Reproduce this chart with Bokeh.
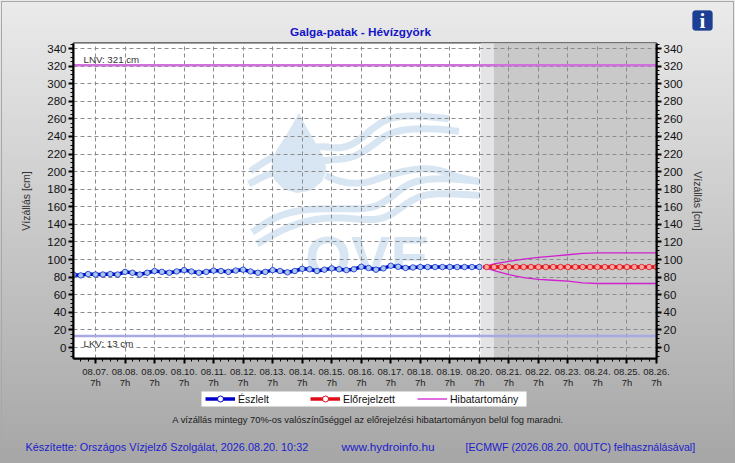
import numpy as np
from bokeh.plotting import figure
from bokeh.embed import file_html
from bokeh.resources import INLINE
from bokeh.core.properties import value
from bokeh.models import (BoxAnnotation, FixedTicker, Grid, Label, Legend, LegendItem, LinearAxis)

# ---- data -------------------------------------------------------------
day_labels = ["08.%02d.\n7h" % d for d in range(7, 27)]
observed = [83, 82, 83.5, 83, 83, 83.5, 83, 86, 85, 83, 85, 87, 86, 85, 86.5, 88, 86.5, 85, 86,
            87.5, 87, 86, 87.5, 88.5, 86.5, 85, 86, 88, 87, 85.5, 87, 89.5, 89, 87, 88.5, 90, 89, 88,
            89, 91.8, 90.4, 88.5, 90, 93, 91.8, 90.5, 91, 91.5, 91.5, 91.5, 91.5, 91.5, 91.5, 91.5, 91.5, 91.5]
forecast = [91.5] * 24
band_days = [13.125, 13.5, 14.0, 14.5, 15.0, 15.5, 16.0, 16.5, 17.0, 18.0, 19.0]
band_upper = [91.5, 95.0, 98.0, 100.5, 102.5, 104.0, 105.5, 107.0, 107.5, 107.5, 107.5]
band_lower = [91.5, 87.5, 83.0, 79.5, 77.5, 76.5, 75.5, 73.5, 72.8, 72.8, 72.8]
lnv = 321
lkv = 13

W, H = 735, 463
L, R, T, B = 73, 656, 43, 358
X0, X1 = -0.745, 19.0
Y0, Y1 = -12.5, 345.7

def xd(px):
    return X0 + (np.asarray(px, float) - L) * (X1 - X0) / (R - L)

def yd(px):
    return Y1 - (np.asarray(px, float) - T) * (Y1 - Y0) / (B - T)

p = figure(width=W, height=H, x_range=(X0, X1), y_range=(Y0, Y1), output_backend="svg",
           toolbar_location=None, min_border_left=L, min_border_right=W - R,
           min_border_top=T, min_border_bottom=H - B,
           border_fill_color=None, background_fill_color=None,
           outline_line_color="black", outline_line_width=2, x_axis_type=None, y_axis_type=None)
p.styles = {"position": "absolute", "left": "0px", "top": "0px",
            "background": "linear-gradient(#ebebeb, #a6a6a6)",
            "outline": "1px solid #a8a8a8", "outline-offset": "-2px"}

FONT = "Liberation Sans"

# ---- plot background ---------------------------------------------------
p.quad(left=[X0], right=[X1], bottom=[Y0], top=[Y1], color="white", level="image")

WM = "#d8e6f3"
drop_z = [(175, 40), (160, 68), (135, 110), (112, 145), (98, 175), (93, 205), (103, 238), (130, 265),
          (170, 276), (212, 268), (243, 243), (256, 210), (250, 175), (232, 140), (205, 95), (188, 65)]
p.patch(xd([240 + a / 3 for a, b in drop_z]), yd([100 + b / 3 for a, b in drop_z]),
        color=WM, level="image")
waves_z = [
    [(30, 212), (100, 165), (230, 135), (300, 145), (350, 125), (400, 80), (450, 50), (530, 45), (625, 55)],
    [(25, 250), (95, 215), (250, 178), (330, 175), (390, 140), (440, 100), (500, 85), (600, 85), (655, 93)],
    [(255, 225), (300, 245), (370, 250), (440, 225), (520, 205), (590, 205), (650, 230), (718, 243)],
    [(35, 395), (110, 345), (200, 325), (290, 325), (390, 325), (440, 300), (500, 250), (560, 235), (640, 235), (718, 243)],
    [(50, 430), (130, 385), (200, 360), (280, 350), (400, 360), (450, 345), (510, 300), (560, 280), (640, 280), (718, 285)],
]

def soften(pts, n=3):
    pts = np.asarray(pts, float)
    for _ in range(n):
        a = pts[:-1] * .75 + pts[1:] * .25
        b = pts[:-1] * .25 + pts[1:] * .75
        mid = np.empty((len(a) * 2, 2))
        mid[0::2], mid[1::2] = a, b
        pts = np.vstack([pts[:1], mid, pts[-1:]])
    return pts

for w in waves_z:
    s = soften(w)
    p.line(xd(240 + s[:, 0] / 3), yd(100 + s[:, 1] / 3), line_color=WM, line_width=7, level="image")
p.text(xd([367]), yd([257]), text=["OVE"], text_color=WM, text_font=value(FONT), text_font_style="bold",
       text_font_size="59px", text_align="center", text_baseline="alphabetic", level="image")
p.quad(left=[xd(300)], right=[xd(440)], bottom=[Y0], top=[yd(268)], color="white", level="image")

# forecast shading
p.quad(left=[xd(480.5)], right=[xd(494)], bottom=[Y0], top=[Y1], color="#e4e4e6", level="image")
p.quad(left=[xd(494)], right=[X1], bottom=[Y0], top=[Y1], color="#c9c9c9", level="image")

# ---- axes --------------------------------------------------------------
xticks = list(range(0, 20))
yticks = list(range(0, 341, 20))
xminor = [d / 4 for d in range(-2, 77)]
yminor = list(range(-10, 346, 5))
overrides = {i: lab for i, lab in enumerate(day_labels)}

def style(ax):
    ax.axis_line_color = "black"
    ax.axis_line_width = 2
    ax.major_tick_line_color = "black"
    ax.minor_tick_line_color = "black"
    ax.major_tick_line_width = 2
    ax.minor_tick_line_width = 1
    ax.major_tick_in = 0
    ax.minor_tick_in = 0

xax = LinearAxis(ticker=FixedTicker(ticks=xticks, minor_ticks=xminor), major_label_overrides=overrides)
style(xax)
xax.major_tick_out = 5
xax.minor_tick_out = 3
xax.major_label_text_font = FONT
xax.major_label_text_font_size = "9.5px"
xax.major_label_text_color = "#222222"
xax.major_label_text_line_height = 1.0
xax.major_label_standoff = 2
p.add_layout(xax, "below")

for side, off in (("left", 12), ("right", 6)):
    ax = LinearAxis(ticker=FixedTicker(ticks=yticks, minor_ticks=yminor), axis_label="Vízállás [cm]")
    style(ax)
    ax.major_tick_out = 5
    ax.minor_tick_out = 3
    ax.major_label_text_font = FONT
    ax.major_label_text_font_size = "11.5px"
    ax.major_label_text_color = "#111111"
    ax.major_label_standoff = 2
    ax.axis_label_text_font = FONT
    ax.axis_label_text_font_size = "10.5px"
    ax.axis_label_text_font_style = "normal"
    ax.axis_label_text_color = "#333333"
    ax.axis_label_standoff = off
    p.add_layout(ax, side)

p.add_layout(Grid(dimension=0, ticker=FixedTicker(ticks=xticks), grid_line_color="#8c8c8c",
                  grid_line_dash="4 3", grid_line_width=1))
p.add_layout(Grid(dimension=1, ticker=FixedTicker(ticks=yticks), grid_line_color="#8c8c8c",
                  grid_line_dash="4 3", grid_line_width=1))

# ---- series ------------------------------------------------------------
obs_x = [-0.75 + i * 0.25 for i in range(len(observed))]
fc_x = [13.25 + i * 0.25 for i in range(len(forecast))]

p.line([X0, X1], [lnv, lnv], line_color="#d070dc", line_width=2.5)
p.line([X0, X1], [lkv, lkv], line_color="#a8a8e2", line_width=2.5)

HIB, RED, BLU = "#d020d0", "#e00c18", "#0000cc"
p.line(band_days, band_upper, line_color=HIB, line_width=1.3)
p.line(band_days, band_lower, line_color=HIB, line_width=1.3)
p.line([13.125] + fc_x, [forecast[0]] + forecast, line_color=RED, line_width=3.5)
p.scatter(fc_x, forecast, marker="circle", size=5.5, fill_color="#ffa8a0", line_color=RED, line_width=0.8)
p.line(obs_x, observed, line_color=BLU, line_width=3.5)
p.scatter(obs_x, observed, marker="circle", size=5.5, fill_color="#a8c8f0", line_color="#1030c8", line_width=0.8)

# ---- overlay page figure: everything that sits outside the plot frame ----
q = figure(width=W, height=H, x_range=(0, W), y_range=(H, 0), output_backend="svg",
           toolbar_location=None, min_border=0, border_fill_color=None, background_fill_color=None,
           outline_line_color=None, x_axis_type=None, y_axis_type=None)
q.styles = {"position": "absolute", "left": "0px", "top": "0px"}

q.add_layout(BoxAnnotation(left=201, right=526, top=391, bottom=406, fill_color="white", fill_alpha=1,
                           line_color=None, level="glyph"))
off_x, off_y = [-50, -40], [-50, -50]
ll_b = q.line(off_x, off_y, line_color=BLU, line_width=3.5)
lm_b = q.scatter(off_x, off_y, marker="circle", size=5, fill_color="white", line_color=BLU)
ll_r = q.line(off_x, off_y, line_color=RED, line_width=3.5)
lm_r = q.scatter(off_x, off_y, marker="circle", size=5, fill_color="white", line_color=RED)
ll_h = q.line(off_x, off_y, line_color=HIB, line_width=1.3)
legends = [("Észlelt", [ll_b, lm_b], 205), ("Előrejelzett", [ll_r, lm_r], 310), ("Hibatartomány", [ll_h], 417)]
for label, rends, px in legends:
    q.add_layout(Legend(items=[LegendItem(label=label, renderers=rends)], location=(px, H - 406),
                        orientation="horizontal", background_fill_alpha=0, border_line_color=None,
                        padding=0, margin=0, glyph_width=30, glyph_height=15, label_standoff=3,
                        label_height=15, label_text_font=FONT, label_text_font_size="10.5px",
                        label_text_color="#111111"))

def lab(px, py, text, size, color, align="left", style="normal", font=FONT):
    q.add_layout(Label(x=px, y=py, text=text, text_font=font, text_font_size=size, text_color=color,
                       text_align=align, text_baseline="middle", text_font_style=style))

BLUE = "#1c1ccc"
lab(360, 31, "Galga-patak - Hévízgyörk", "11.8px", "#1414c8", "center", "bold")
lab(83, 59, "LNV: 321 cm", "9.7px", "#333333")
lab(83, 342.5, "LKV: 13 cm", "9.7px", "#333333")
lab(367.5, 418.5, "A vízállás mintegy 70%-os valószínűséggel az előrejelzési hibatartományon belül fog maradni.", "9.4px", "#1a1a1a", "center")
lab(25, 446.5, "Készítette: Országos Vízjelző Szolgálat, 2026.08.20. 10:32", "10.85px", BLUE)
lab(341, 446.5, "www.hydroinfo.hu", "11.8px", BLUE)
lab(465, 446.5, "[ECMWF (2026.08.20. 00UTC) felhasználásával]", "10.6px", BLUE)

q.add_layout(BoxAnnotation(left=692, right=712, top=10, bottom=30, fill_color="#1c3f94", fill_alpha=1,
                           line_color="#1c3f94", border_radius=3))
lab(702, 20, "i", "21px", "white", "center", "bold", "Liberation Serif")

open("out.html", "w").write(file_html([p, q], INLINE))
